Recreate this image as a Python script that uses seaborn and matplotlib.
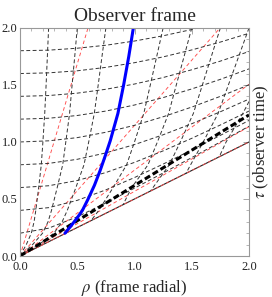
import matplotlib
matplotlib.use("Agg")
import matplotlib.pyplot as plt
import seaborn as sns
import pandas as pd

# ---- data ----
x_ticks = [0.0, 0.5, 1.0, 1.5, 2.0]
y_ticks = [0.0, 0.5, 1.0, 1.5, 2.0]
tick_labels = ["0.0", "0.5", "1.0", "1.5", "2.0"]

# shallow (constant observer-time) dashed curves: rho sample points, tau per curve
shallow_rho = [0.0, 0.25, 0.5, 0.75, 1.0, 1.25, 1.5, 1.75, 2.0]
shallow_tau = [
    [0.200, 0.244, 0.344, 0.465, 0.595, 0.728, 0.863, 1.000, 1.138],
    [0.400, 0.424, 0.488, 0.580, 0.688, 0.806, 0.930, 1.058, 1.189],
    [0.600, 0.616, 0.662, 0.732, 0.821, 0.922, 1.032, 1.149, 1.271],
    [0.800, 0.812, 0.848, 0.904, 0.977, 1.063, 1.160, 1.265, 1.376],
    [1.000, 1.010, 1.038, 1.085, 1.146, 1.221, 1.306, 1.400, 1.501],
    [1.200, 1.208, 1.232, 1.271, 1.324, 1.389, 1.465, 1.549, 1.641],
    [1.400, 1.407, 1.428, 1.462, 1.508, 1.565, 1.633, 1.709, 1.793],
    [1.600, 1.606, 1.624, 1.654, 1.695, 1.746, 1.807, 1.876, 1.953],
    [1.800, 1.805, 1.822, 1.848, 1.885, 1.931, 1.986, 2.049, 2.120],
]

# steep (constant frame-position) dashed curves: (tau list, rho list)
steep_tau = [
    [2.0, 1.75, 1.5, 1.25, 1.0, 0.8, 0.6, 0.4, 0.3, 0.2, 0.1, 0.0],
    [2.0, 1.75, 1.5, 1.25, 1.0, 0.8, 0.6, 0.4, 0.3, 0.2, 0.1, 0.0],
    [2.0, 1.75, 1.5, 1.25, 1.0, 0.8, 0.6, 0.4, 0.3, 0.2, 0.1, 0.0],
    [2.0, 1.75, 1.5, 1.25, 1.0, 0.8, 0.6, 0.4, 0.31],
    [2.0, 1.75, 1.5, 1.25, 1.0, 0.8, 0.6, 0.45],
    [2.0, 1.75, 1.5, 1.25, 1.0, 0.8, 0.57],
    [2.0, 1.75, 1.5, 1.25, 1.0, 0.8, 0.725],
    [1.355, 1.25, 1.0, 0.87],
]
steep_rho = [
    [0.25, 0.239, 0.228, 0.216, 0.200, 0.186, 0.163, 0.138, 0.123, 0.099, 0.055, 0.0],
    [0.50, 0.478, 0.455, 0.433, 0.400, 0.373, 0.325, 0.275, 0.245, 0.197, 0.110, 0.0],
    [0.75, 0.716, 0.683, 0.649, 0.600, 0.559, 0.488, 0.413, 0.368, 0.296, 0.165, 0.0],
    [1.25, 1.194, 1.138, 1.081, 1.000, 0.931, 0.813, 0.688, 0.620],
    [1.50, 1.433, 1.365, 1.298, 1.200, 1.118, 0.975, 0.900],
    [1.75, 1.671, 1.593, 1.514, 1.400, 1.304, 1.140],
    [2.00, 1.910, 1.820, 1.730, 1.600, 1.490, 1.450],
    [2.00, 1.946, 1.800, 1.740],
]

# blue world line
blue_rho = [0.393, 0.450, 0.500, 0.545, 0.595, 0.650, 0.700, 0.745, 0.788,
            0.855, 0.905, 0.950, 0.990]
blue_tau = [0.200, 0.270, 0.335, 0.400, 0.500, 0.620, 0.750, 0.880, 1.010,
            1.250, 1.500, 1.750, 2.000]

# red dashed rays from the origin (end points on the frame)
red_end_rho = [0.594, 1.747, 2.0, 2.0]
red_end_tau = [2.0, 2.0, 1.506, 1.134]

# thick black dashed ray and boundary ray
thick_rho = [0.0, 2.0]
thick_tau = [0.0, 1.237]
bound_rho = [0.0, 2.0]
bound_tau = [0.0, 1.0]

# ---- drawing ----
sns.set_theme(style="white")
plt.rcParams["font.family"] = ["Liberation Serif", "DejaVu Serif"]
plt.rcParams["mathtext.fontset"] = "stix"

fig = plt.figure(figsize=(2.72, 2.97), dpi=100)
ax = fig.add_axes([0.0735, 0.138, 0.842, 0.768])

def draw(xs, ys, **kw):
    df = pd.DataFrame({"x": xs, "y": ys})
    sns.lineplot(data=df, x="x", y="y", sort=False, estimator=None, ax=ax, **kw)

for r, t in zip(red_end_rho, red_end_tau):
    draw([0.0, r], [0.0, t], color="#ff4c4c", lw=0.65, linestyle=(0, (4, 3)))

for t in shallow_tau:
    draw(shallow_rho, t, color="#333333", lw=0.7, linestyle=(0, (4, 2.5)))
for t, r in zip(steep_tau, steep_rho):
    draw(r, t, color="#333333", lw=0.7, linestyle=(0, (4, 2.5)))

draw(bound_rho, bound_tau, color="#222222", lw=0.8)
draw(bound_rho, bound_tau, color="#ff4c4c", lw=0.6, linestyle=(0, (4, 3)))
draw(thick_rho, thick_tau, color="black", lw=2.2, linestyle=(0, (2, 1)))
draw(blue_rho, blue_tau, color="#0000ff", lw=2.2)

ax.set_xlim(0, 2)
ax.set_ylim(0, 2)
ax.set_xticks(x_ticks)
ax.set_xticklabels(tick_labels)
ax.set_yticks(y_ticks)
ax.set_yticklabels(tick_labels)
ax.set_xticks([i / 10 for i in range(21)], minor=True)
ax.set_yticks([i / 10 for i in range(21)], minor=True)
ax.tick_params(which="both", direction="in", top=True, right=True,
               color="#999999", labelsize=9, labelcolor="#222222", pad=2)
ax.tick_params(axis="x", which="major", pad=3.5)
ax.tick_params(which="major", length=4, width=0.6)
ax.tick_params(which="minor", length=2, width=0.5)
for s in ax.spines.values():
    s.set_color("#999999")
    s.set_linewidth(0.8)

ax.set_title("Observer frame", fontsize=14, pad=5)
ax.set_xlabel(r"$\rho$ (frame radial)", fontsize=12, labelpad=4)
ax.yaxis.set_label_position("right")
ax.set_ylabel(r"$\tau$ (observer time)", fontsize=12, labelpad=2, rotation=90)

fig.savefig("out.png", dpi=100)
